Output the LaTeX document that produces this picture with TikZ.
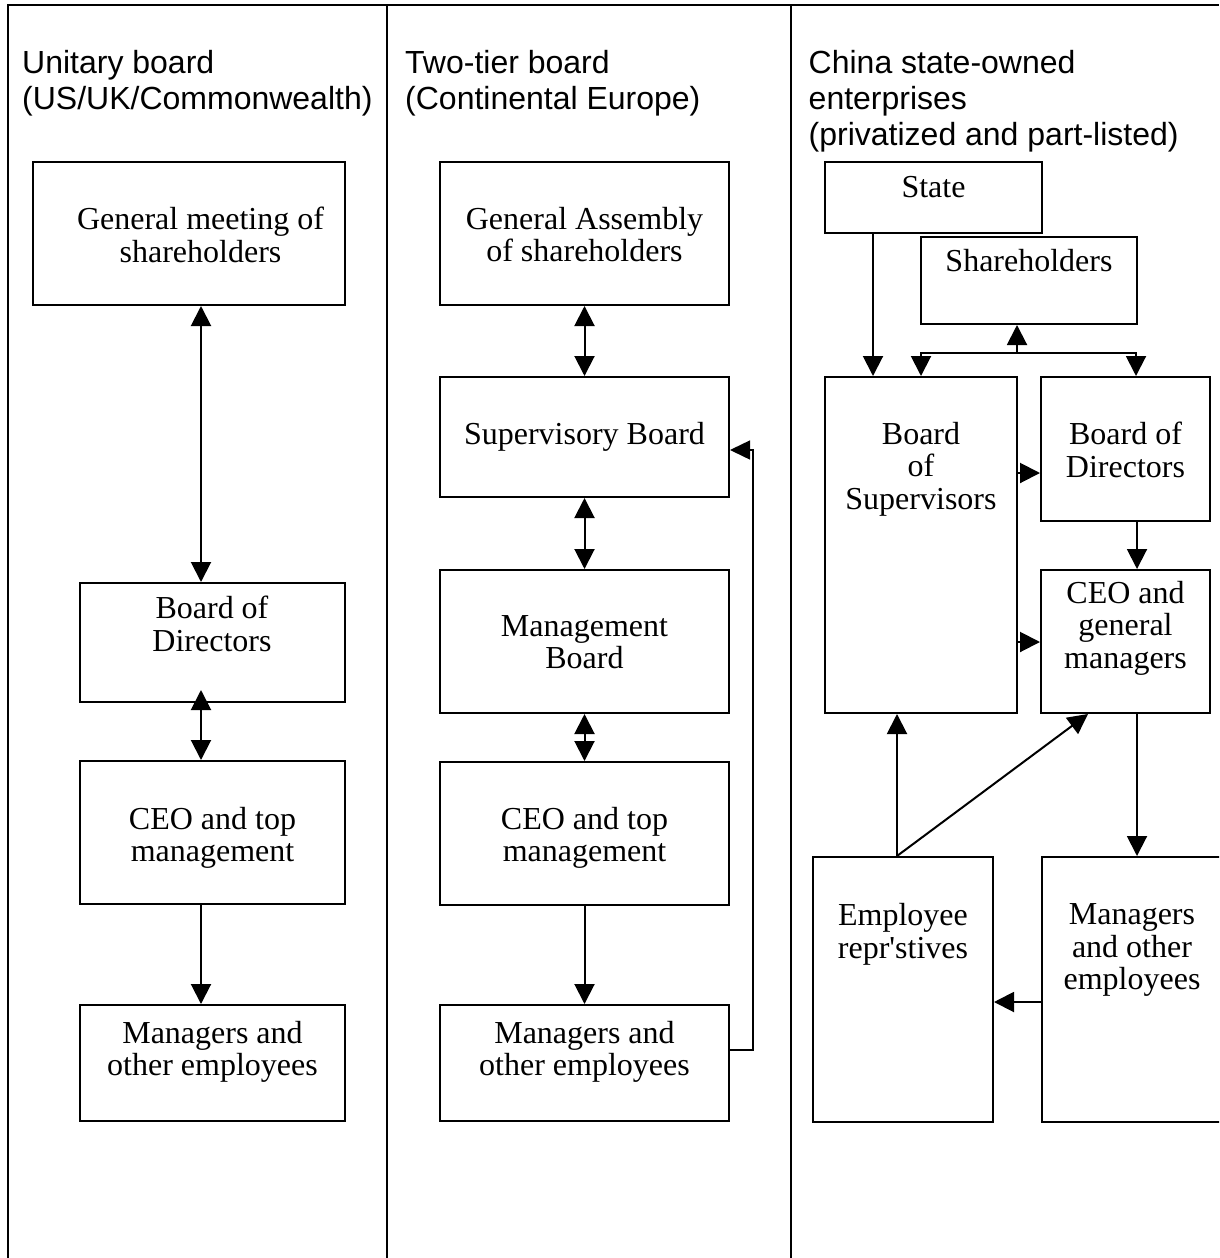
\documentclass[tikz,border=0pt]{standalone}
\usepackage{fontspec}
\setmainfont{Liberation Serif}
\newfontfamily\headfont{Liberation Sans}
\usetikzlibrary{arrows.meta}
\tikzset{
  box/.style={draw, line width=2pt, inner sep=0pt},
  txt/.style={align=center, inner sep=0pt, anchor=north, font=\fontsize{32}{32.5}\selectfont},
  head/.style={align=left, inner sep=0pt, anchor=north west, font=\headfont\fontsize{32}{36}\selectfont},
  arr/.style={line width=2pt, -{Triangle[length=20pt,width=20pt]}},
  dbl/.style={line width=2pt, {Triangle[length=20pt,width=20pt]}-{Triangle[length=20pt,width=20pt]}},
  thinarr/.style={line width=1.5pt, -{Triangle[length=20pt,width=19pt]}},
  sep/.style={line width=2pt}
}
\begin{document}
\begin{tikzpicture}[x=1pt,y=-1pt]
\clip (0,0) rectangle (1219,1258);
\fill[white] (0,0) rectangle (1219,1258);
% frame
\draw[sep, line width=2.5pt] (8,1258) -- (8,5) -- (1219,5);
\draw[sep] (387,5) -- (387,1258);
\draw[sep] (791,5) -- (791,1258);
% headings
\node[head] (h1) at (22,50) {Unitary board\\(US/UK/Commonwealth)};
\node[head] (h2) at (405,50) {Two-tier board\\(Continental Europe)};
\node[head] (h3) at (808.5,50) {China state-owned\\enterprises\\(privatized and part-listed)};
% column 1
\node[box, minimum width=312pt, minimum height=143pt] (gm1) at (189,233.5) {};
\node[box, minimum width=265pt, minimum height=119pt] (bod1) at (212.5,642.5) {};
\node[box, minimum width=265pt, minimum height=143pt] (ceo1) at (212.5,832.5) {};
\node[box, minimum width=265pt, minimum height=116pt] (mgr1) at (212.5,1063) {};
\node[txt] (tgm1) at (200.5,207) {General meeting of\\shareholders};
\node[txt] (tbod1) at (212,596) {Board of\\Directors};
\node[txt] (tceo1) at (212.5,807) {CEO and top\\management};
\node[txt] (tmgr1) at (212.5,1021) {Managers and\\other employees};
% column 2
\node[box, minimum width=289pt, minimum height=143pt] (ga2) at (584.5,233.5) {};
\node[box, minimum width=289pt, minimum height=120pt] (sb2) at (584.5,437) {};
\node[box, minimum width=289pt, minimum height=143pt] (mb2) at (584.5,641.5) {};
\node[box, minimum width=289pt, minimum height=143pt] (ceo2) at (584.5,833.5) {};
\node[box, minimum width=289pt, minimum height=116pt] (mgr2) at (584.5,1063) {};
\node[txt] (tga2) at (584.5,207) {General Assembly\\of shareholders};
\node[txt] (tsb2) at (584.5,422) {Supervisory Board};
\node[txt] (tmb2) at (584.5,615) {Management\\Board};
\node[txt] (tceo2) at (584.5,807) {CEO and top\\management};
\node[txt] (tmgr2) at (584.5,1021) {Managers and\\other employees};
% column 3
\node[box, minimum width=217pt, minimum height=71pt] (state) at (933.5,197.5) {};
\node[box, minimum width=216pt, minimum height=87pt] (sh) at (1029,280.5) {};
\node[box, minimum width=192pt, minimum height=336pt] (bos) at (921,545) {};
\node[box, minimum width=169pt, minimum height=144pt] (bod3) at (1125.5,449) {};
\node[box, minimum width=169pt, minimum height=143pt] (ceo3) at (1125.5,641.5) {};
\node[box, minimum width=180pt, minimum height=265pt] (emp) at (903,989.5) {};
\node[box, minimum width=182pt, minimum height=265pt] (mgr3) at (1133,989.5) {};
\node[txt] (tstate) at (933.5,176) {State};
\node[txt] (tsh) at (1029,249) {Shareholders};
\node[txt] (tbos) at (921,422) {Board\\of\\Supervisors};
\node[txt] (tbod3) at (1125.5,422) {Board of\\Directors};
\node[txt] (tceo3) at (1125.5,581) {CEO and\\general\\managers};
\node[txt] (temp) at (903,903.5) {Employee\\repr\textquotesingle stives};
\node[txt] (tmgr3) at (1132,903.5) {Managers\\and other\\employees};
% helper coordinates
\coordinate (c1x) at (201,0);
\coordinate (fb1) at (753,1050);
\coordinate (fb2) at (753,450);
\coordinate (sx) at (873,0);
\coordinate (bl) at (921,353);
\coordinate (bm) at (1017,353);
\coordinate (brr) at (1136,353);
\coordinate (y1) at (0,473);
\coordinate (y2) at (0,642);
\coordinate (y3) at (0,1002);
\coordinate (x1) at (1137,0);
\coordinate (x2) at (897,0);
\coordinate (x3) at (1088,0);
% column 1 connectors
\draw[dbl] (gm1.south -| c1x) -- (bod1.north -| c1x);
\draw[dbl] ([yshift=13pt]bod1.south -| c1x) -- (ceo1.north -| c1x);
\draw[arr] (ceo1.south -| c1x) -- (mgr1.north -| c1x);
% column 2 connectors
\draw[dbl] (ga2.south) -- (sb2.north);
\draw[dbl] (sb2.south) -- (mb2.north);
\draw[dbl] (mb2.south) -- (ceo2.north);
\draw[arr] (ceo2.south) -- (mgr2.north);
\draw[thinarr] (mgr2.east |- fb1) -- (fb1) -- (fb2) -- (sb2.east |- fb2);
% column 3 connectors
\draw[arr] (state.south -| sx) -- (bos.north -| sx);
\draw[dbl] (bos.north -| bl) -- (bl) -- (brr) -- (bod3.north -| brr);
\draw[arr] (bm) -- (sh.south -| bm);
\draw[arr] (bos.east |- y1) -- (bod3.west |- y1);
\draw[arr] (bos.east |- y2) -- (ceo3.west |- y2);
\draw[arr] (bod3.south -| x1) -- (ceo3.north -| x1);
\draw[arr] (ceo3.south -| x1) -- (mgr3.north -| x1);
\draw[arr] (mgr3.west |- y3) -- (emp.east |- y3);
\draw[arr] (emp.north -| x2) -- (bos.south -| x2);
\draw[arr] (emp.north -| x2) -- (ceo3.south -| x3);
\end{tikzpicture}
\end{document}
